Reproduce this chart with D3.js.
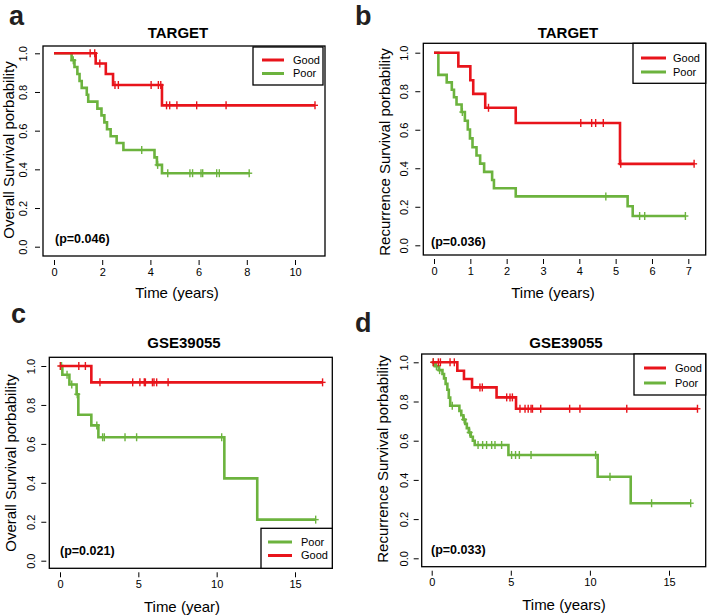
<!DOCTYPE html>
<html><head><meta charset="utf-8">
<script src="https://cdn.jsdelivr.net/npm/d3@7"></script>
<style>
body{margin:0;background:#fff}
svg{display:block}
text{font-family:"Liberation Sans",Arial,Helvetica,sans-serif;fill:#000}
</style>
</head><body>
<svg id="chart" width="709" height="616"></svg>
<script>
// ---------- data ----------
const yTicks = [0, 0.2, 0.4, 0.6, 0.8, 1.0];
const aXTicks = [0, 2, 4, 6, 8, 10];
const bXTicks = [0, 1, 2, 3, 4, 5, 6, 7];
const cXTicks = [0, 5, 10, 15];
const dXTicks = [0, 5, 10, 15];

// Panel a: TARGET overall survival
const aGoodTime = [1.73, 2.15, 2.45, 4.48];
const aGoodSurv = [0.947, 0.893, 0.836, 0.731];
const aGoodCensor = [1.5, 1.69, 1.9, 2.53, 2.67, 4.03, 4.33, 4.43, 4.67, 4.8, 5.1, 5.92, 7.14, 10.83];
const aPoorTime = [0.73, 0.85, 0.97, 1.06, 1.15, 1.36, 1.42, 1.8, 1.97, 2.09, 2.2, 2.35, 2.6, 2.88, 4.17, 4.27, 4.48];
const aPoorSurv = [0.964, 0.929, 0.893, 0.857, 0.821, 0.786, 0.75, 0.714, 0.679, 0.643, 0.607, 0.571, 0.536, 0.5, 0.462, 0.423, 0.38];
const aPoorCensor = [0.8, 3.64, 4.3, 4.72, 5.64, 5.75, 6.1, 6.17, 6.75, 6.86, 8.1];

// Panel b: TARGET recurrence survival
const bGoodTime = [0.67, 1.0, 1.08, 1.41, 2.25, 5.12];
const bGoodSurv = [0.929, 0.857, 0.786, 0.714, 0.635, 0.423];
const bGoodCensor = [1.5, 4.04, 4.34, 4.45, 4.66, 5.14, 7.16];
const bPoorTime = [0.12, 0.35, 0.49, 0.55, 0.62, 0.76, 0.85, 0.93, 0.99, 1.06, 1.17, 1.27, 1.38, 1.6, 1.65, 2.25, 5.33, 5.47];
const bPoorSurv = [0.885, 0.846, 0.808, 0.769, 0.731, 0.692, 0.647, 0.601, 0.555, 0.509, 0.466, 0.424, 0.381, 0.339, 0.296, 0.254, 0.203, 0.152];
const bPoorCensor = [0.78, 4.73, 5.66, 5.8, 6.92];

// Panel c: GSE39055 overall survival
const cGoodTime = [2.0];
const cGoodSurv = [0.916];
const cGoodCensor = [0.02, 1.2, 1.62, 2.55, 4.64, 5.1, 5.38, 5.45, 5.9, 6.0, 6.17, 6.9, 16.76];
const cPoorTime = [0.15, 0.6, 1.06, 1.17, 2.0, 2.45, 10.49, 12.59];
const cPoorSurv = [0.955, 0.905, 0.855, 0.75, 0.695, 0.634, 0.423, 0.211];
const cPoorCensor = [0.1, 0.45, 0.75, 1.1, 2.35, 2.72, 2.83, 4.15, 4.89, 10.32, 16.32];

// Panel d: GSE39055 recurrence survival
const dGoodTime = [1.62, 2.04, 2.55, 4.1, 5.33];
const dGoodSurv = [0.957, 0.915, 0.872, 0.821, 0.763];
const dGoodCensor = [0.1, 0.42, 0.55, 1.16, 1.43, 3.05, 3.2, 4.74, 4.95, 5.1, 5.58, 5.9, 6.1, 6.28, 6.37, 6.89, 8.72, 9.37, 12.33, 16.8];
const dPoorTime = [0.2, 0.45, 0.68, 0.78, 0.88, 0.99, 1.08, 1.17, 1.75, 1.87, 2.0, 2.12, 2.22, 2.35, 2.47, 2.6, 2.72, 4.85, 10.49, 12.58];
const dPoorSurv = [0.98, 0.96, 0.94, 0.918, 0.89, 0.86, 0.82, 0.778, 0.752, 0.73, 0.708, 0.686, 0.664, 0.642, 0.62, 0.6, 0.578, 0.527, 0.416, 0.281];
const dPoorCensor = [0.1, 0.3, 0.5, 1.3, 2.05, 2.4, 2.93, 3.22, 3.47, 3.79, 4.0, 4.42, 5.05, 5.3, 5.54, 6.28, 10.36, 11.27, 13.9, 16.37];

// ---------- styles / layout ----------
const RED = "#e8141b", GREEN = "#6cb33e";

const panels = [
  { letter: "a", lx: 9, ly: 25, title: "TARGET", tx: 178, ty: 38,
    ylab: "Overall Survival porbability", ylx: 9, yly: 150,
    xlab: "Time (years)", xlx: 177, xly: 298, p: "(p=0.046)", px: 55, py: 243,
    box: [43, 46, 325, 256], xd: [0, 10], xr: [54, 295], yr: [246.7, 53.3],
    xticks: aXTicks, ytlx: 23.5,
    curves: [
      { time: aPoorTime, surv: aPoorSurv, censor: aPoorCensor, color: GREEN },
      { time: aGoodTime, surv: aGoodSurv, censor: aGoodCensor, color: RED }],
    legend: { x: 253, y: 47, w: 70, h: 38, items: [["Good", RED], ["Poor", GREEN]], y0: 60, dy: 13.5, l0: 262, l1: 284, tx: 293 } },
  { letter: "b", lx: 355, ly: 25, title: "TARGET", tx: 568, ty: 38,
    ylab: "Recurrence Survival porbability", ylx: 385, yly: 152,
    xlab: "Time (years)", xlx: 553, xly: 298, p: "(p=0.036)", px: 431, py: 246,
    box: [423.3, 43.3, 705.7, 255], xd: [0, 7], xr: [434, 688.3], yr: [245.3, 52.7],
    xticks: bXTicks, ytlx: 404,
    curves: [
      { time: bPoorTime, surv: bPoorSurv, censor: bPoorCensor, color: GREEN },
      { time: bGoodTime, surv: bGoodSurv, censor: bGoodCensor, color: RED }],
    legend: { x: 633, y: 43.3, w: 72.7, h: 40, items: [["Good", RED], ["Poor", GREEN]], y0: 58, dy: 14, l0: 641, l1: 666, tx: 673 } },
  { letter: "c", lx: 11, ly: 323, title: "GSE39055", tx: 184, ty: 348,
    ylab: "Overall Survival porbability", ylx: 11, yly: 463,
    xlab: "Time (year)", xlx: 182, xly: 612, p: "(p=0.021)", px: 60, py: 555,
    box: [49.3, 357.3, 332.3, 568.3], xd: [0, 15], xr: [60, 295], yr: [560.7, 366],
    xticks: cXTicks, ytlx: 31,
    curves: [
      { time: cPoorTime, surv: cPoorSurv, censor: cPoorCensor, color: GREEN },
      { time: cGoodTime, surv: cGoodSurv, censor: cGoodCensor, color: RED }],
    legend: { x: 261, y: 528.3, w: 71.3, h: 40, items: [["Poor", GREEN], ["Good", RED]], y0: 542, dy: 13.5, l0: 268, l1: 292, tx: 301 } },
  { letter: "d", lx: 355, ly: 332, title: "GSE39055", tx: 566, ty: 348,
    ylab: "Recurrence Survival porbability", ylx: 383, yly: 459,
    xlab: "Time (years)", xlx: 564, xly: 610, p: "(p=0.033)", px: 431, py: 554,
    box: [421.7, 354, 705.7, 566.7], xd: [0, 15], xr: [431.7, 669], yr: [558.3, 362.3],
    xticks: dXTicks, ytlx: 404,
    curves: [
      { time: dPoorTime, surv: dPoorSurv, censor: dPoorCensor, color: GREEN },
      { time: dGoodTime, surv: dGoodSurv, censor: dGoodCensor, color: RED }],
    legend: { x: 634, y: 354, w: 71.7, h: 41, items: [["Good", RED], ["Poor", GREEN]], y0: 368, dy: 15, l0: 644, l1: 666, tx: 675 } }
];

// ---------- drawing ----------
const svg = d3.select("#chart");
svg.append("rect").attr("width", 709).attr("height", 616).attr("fill", "#fff");

function survAt(time, surv, t) {
  let s = 1;
  for (let i = 0; i < time.length; i++) if (time[i] <= t) s = surv[i];
  return s;
}

panels.forEach(P => {
  const g = svg.append("g");
  const x = d3.scaleLinear().domain(P.xd).range(P.xr);
  const y = d3.scaleLinear().domain([0, 1]).range(P.yr);
  const [bx0, by0, bx1, by1] = P.box;

  // panel letter
  g.append("text").attr("x", P.lx).attr("y", P.ly).text(P.letter)
    .style("font-size", "27px").style("font-weight", "bold").style("fill", "#231f20");
  // title
  g.append("text").attr("x", P.tx).attr("y", P.ty).attr("text-anchor", "middle")
    .style("font-size", "15px").style("font-weight", "bold").text(P.title);

  // x axis (ticks only, offset below the box)
  const xa = g.append("g").attr("transform", `translate(0,${by1 + 4})`)
    .call(d3.axisBottom(x).tickValues(P.xticks).tickSize(5).tickSizeOuter(0).tickPadding(3).tickFormat(d3.format("d")));
  xa.select(".domain").remove();
  xa.selectAll("text").style("font-size", "11px").style("font-family", '"Liberation Sans",Arial,sans-serif');
  xa.selectAll("line").attr("stroke", "#000").attr("stroke-width", 1);
  // y axis
  const ya = g.append("g").attr("transform", `translate(${bx0 - 3},0)`)
    .call(d3.axisLeft(y).tickValues(yTicks).tickSize(5).tickSizeOuter(0).tickFormat(d3.format(".1f")));
  ya.select(".domain").remove();
  ya.selectAll("line").attr("stroke", "#000").attr("stroke-width", 1);
  ya.selectAll("text")
    .attr("x", null).attr("dy", null)
    .attr("text-anchor", "middle")
    .attr("transform", `translate(${P.ytlx - (bx0 - 3)},0) rotate(-90)`)
    .attr("dy", "0.35em")
    .style("font-size", "11px").style("font-family", '"Liberation Sans",Arial,sans-serif');

  // axis titles
  g.append("text").attr("x", P.xlx).attr("y", P.xly).attr("text-anchor", "middle")
    .style("font-size", "15px").text(P.xlab);
  g.append("text").attr("transform", `translate(${P.ylx},${P.yly}) rotate(-90)`)
    .attr("text-anchor", "middle").attr("dy", "0.35em").style("font-size", "15px").text(P.ylab);

  // curves
  const line = d3.line().x(d => x(d[0])).y(d => y(d[1])).curve(d3.curveStepAfter);
  P.curves.forEach(c => {
    const end = Math.max(d3.max(c.censor), d3.max(c.time));
    const pts = [[0, 1]].concat(c.time.map((t, i) => [t, c.surv[i]]));
    pts.push([end, c.surv[c.surv.length - 1]]);
    g.append("path").attr("d", line(pts)).attr("fill", "none")
      .attr("stroke", c.color).attr("stroke-width", 2.6).attr("stroke-linejoin", "miter");
    const cg = g.append("g").attr("stroke", c.color).attr("stroke-width", 1.4);
    c.censor.forEach(t => {
      const cx = x(t), cy = y(survAt(c.time, c.surv, t));
      cg.append("line").attr("x1", cx).attr("x2", cx).attr("y1", cy - 4).attr("y2", cy + 4);
      cg.append("line").attr("x1", cx - 3).attr("x2", cx + 3).attr("y1", cy).attr("y2", cy);
    });
  });

  // p value
  g.append("text").attr("x", P.px).attr("y", P.py).style("font-size", "12.5px")
    .style("font-weight", "bold").text(P.p);

  // box
  g.append("rect").attr("x", bx0).attr("y", by0).attr("width", bx1 - bx0).attr("height", by1 - by0)
    .attr("fill", "none").attr("stroke", "#000").attr("stroke-width", 1.3);

  // legend
  const L = P.legend;
  g.append("rect").attr("x", L.x).attr("y", L.y).attr("width", L.w).attr("height", L.h)
    .attr("fill", "#fff").attr("stroke", "#000").attr("stroke-width", 1.3);
  L.items.forEach((it, i) => {
    const yy = L.y0 + i * L.dy;
    g.append("line").attr("x1", L.l0).attr("x2", L.l1).attr("y1", yy).attr("y2", yy)
      .attr("stroke", it[1]).attr("stroke-width", 3);
    g.append("text").attr("x", L.tx).attr("y", yy).attr("dy", "0.36em")
      .style("font-size", "11px").text(it[0]);
  });
});
</script>
</body></html>
